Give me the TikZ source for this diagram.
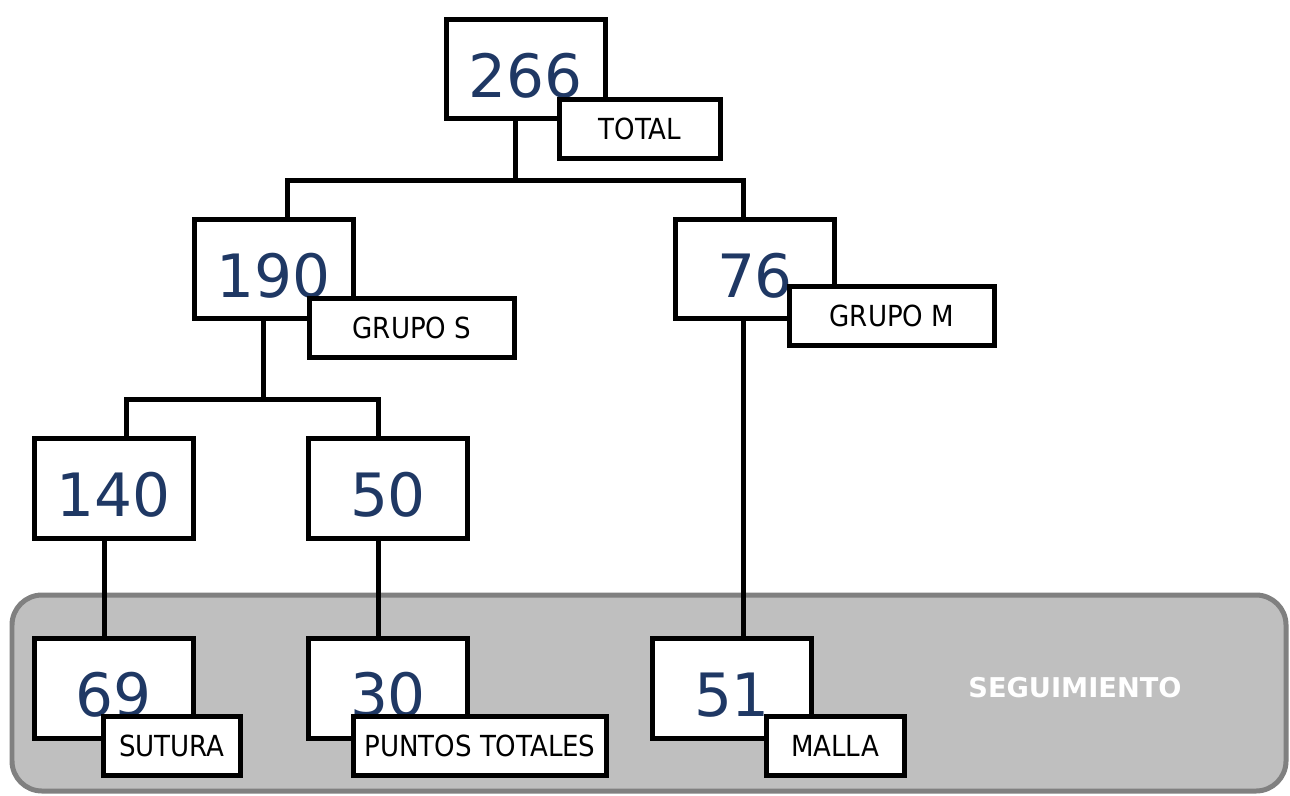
\documentclass[tikz,border=0pt]{standalone}
\usepackage{fontspec}
\setmainfont{DejaVu Sans}
\newfontfamily\condfont{DejaVu Sans Condensed}
\usetikzlibrary{calc}
\definecolor{numblue}{RGB}{31,56,100}
\definecolor{panelgray}{RGB}{191,191,191}
\definecolor{panelrim}{RGB}{128,128,128}
\tikzset{
	wire/.style={line width=0.1cm},
	numbox/.style={draw, line width=0.1cm, fill=white, inner sep=0pt,
		minimum width=3.2cm, minimum height=2cm, text=numblue,
		text height=1.15cm, text depth=0cm, font=\fontsize{34}{34}\selectfont},
	tagbox/.style={draw, line width=0.1cm, fill=white, inner sep=0pt,
		minimum height=1.18cm, font=\condfont\fontsize{16.5}{16.5}\selectfont}
}

\begin{document}
\begin{tikzpicture}[x=0.02cm, y=-0.02cm]
		%%%%% START %%%%%
		\useasboundingbox (0,0) rectangle (1290,795);
		
		% seguimiento panel
		\draw[line width=0.1cm, draw=panelrim, fill=panelgray, rounded corners=0.6cm] (12,595) rectangle (1286,791);
		\node[text=white, font=\bfseries\fontsize{15.5}{15.5}\selectfont] (seg) at (1075,688) {SEGUIMIENTO};
		
		% number boxes
		\node[numbox] (tot) at (526,69) {266};
		\node[numbox] (gs) at (274,269) {190};
		\node[numbox] (gm) at (755,269) {76};
		\node[numbox] (g140) at (114,488) {140};
		\node[numbox] (g50) at (388,488) {50};
		\node[numbox] (s69) at (114,688) {69};
		\node[numbox] (p30) at (388,688) {30};
		\node[numbox] (m51) at (732,688) {51};
		
		% connectors
		\coordinate (j1) at (515,180);
		\coordinate (j1l) at (287,180);
		\coordinate (j1r) at (743,180);
		\draw[wire] (tot.south -| j1) -- (j1);
		\draw[wire] (j1l |- gs.north) |- (j1r) -- (j1r |- gm.north);
		
		\coordinate (j2) at (263,399);
		\coordinate (j2l) at (126,399);
		\coordinate (j2r) at (378,399);
		\draw[wire] (gs.south -| j2) -- (j2);
		\draw[wire] (j2l |- g140.north) |- (j2r) -- (j2r |- g50.north);
		
		\draw[wire] ([xshift=-0.2cm]g140.south) -- ([xshift=-0.2cm]s69.north);
		\draw[wire] ([xshift=-0.2cm]g50.south) -- ([xshift=-0.2cm]p30.north);
		\draw[wire] (gm.south -| j1r) -- (j1r |- m51.north);
		
		% tags
		\node[tagbox, minimum width=3.22cm] (ltot) at (640,129) {TOTAL};
		\node[tagbox, minimum width=4.12cm] (lgs) at (412,328) {GRUPO S};
		\node[tagbox, minimum width=4.12cm] (lgm) at (892,316) {GRUPO M};
		\node[tagbox, minimum width=2.76cm] (lsut) at (172,746) {SUTURA};
		\node[tagbox, minimum width=5.06cm] (lpun) at (480,746) {PUNTOS TOTALES};
		\node[tagbox, minimum width=2.76cm] (lmal) at (835,746) {MALLA};
		%%%%% END %%%%%
	\end{tikzpicture}
\end{document}
